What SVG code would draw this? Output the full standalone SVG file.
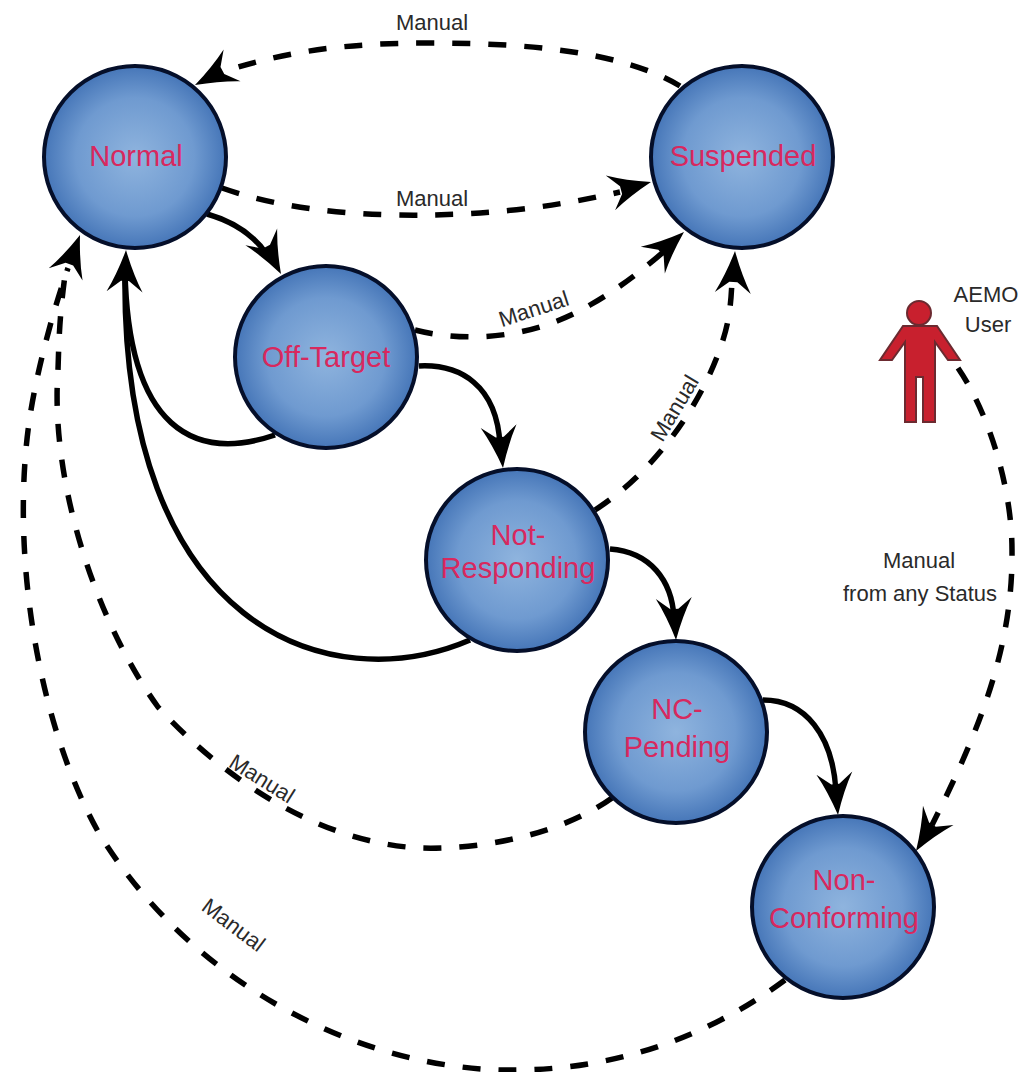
<svg xmlns="http://www.w3.org/2000/svg" width="1026" height="1072" viewBox="0 0 1026 1072">
<style>
.c{fill:url(#g);stroke:#050f2a;stroke-width:4}
.n{font-family:"Liberation Sans",Arial,sans-serif;font-size:29px;fill:#d8285e;text-anchor:middle}
.l{font-family:"Liberation Sans",Arial,sans-serif;font-size:22px;fill:#2a2a2a;text-anchor:middle}
.s{fill:none;stroke:#000;stroke-width:5.5}
.d{fill:none;stroke:#000;stroke-width:5.5;stroke-dasharray:18 18}
.a{fill:#000}
.p{fill:#c8202e;stroke:#6b2a30;stroke-width:2}
</style>
<defs>
<radialGradient id="g" cx="50%" cy="50%" r="50%">
<stop offset="0" stop-color="#8fb4de"/><stop offset="0.65" stop-color="#6f9ad0"/><stop offset="1" stop-color="#4676b8"/>
</radialGradient>
<path id="h" d="M0 0Q-24 -8 -42 -18L-31 -4V4L-42 18Q-24 8 0 0Z"/>
</defs>
<rect width="1026" height="1072" fill="#fff"/>
<g id="connectors">
<path class="d" d="M680 86C620 50 520 43 430 43C350 43 290 50 222 72"/>
<path class="d" d="M222 188C290 212 370 216 430 215C490 214 550 208 620 192"/>
<path class="s" d="M207 214C235 222 255 236 268 256"/>
<path class="d" d="M415 330C475 345 540 335 590 305C620 288 645 268 668 248"/>
<path class="s" d="M419 366C460 364 497 385 500 445"/>
<path class="s" d="M275 435C195 462 128 430 125 270"/>
<path class="s" d="M470 640C330 700 120 630 125 270"/>
<path class="d" d="M595 510C650 475 700 410 722 343C729 322 731 305 732 280"/>
<path class="s" d="M610 549C650 552 672 580 674 618"/>
<path class="s" d="M763 700C805 700 833 735 836 792"/>
<path class="d" d="M612 798C560 835 480 850 420 848C320 843 225 780 158 707C95 620 50 480 58 370C59 335 60 310 66 268"/>
<path class="d" d="M785 980C690 1050 590 1072 500 1070C350 1065 190 980 100 835C40 730 10 560 29 423C35 380 50 320 68 268"/>
<path class="d" d="M958 368C990 415 1012 490 1012 550C1013 640 985 720 932 825"/>
<use href="#h" class="a" transform="translate(195 85) rotate(152)"/>
<use href="#h" class="a" transform="translate(651 182) rotate(-15)"/>
<use href="#h" class="a" transform="translate(281 274) rotate(62)"/>
<use href="#h" class="a" transform="translate(684 232) rotate(-42)"/>
<use href="#h" class="a" transform="translate(503 468) rotate(84)"/>
<use href="#h" class="a" transform="translate(126 250) rotate(-88)"/>
<use href="#h" class="a" transform="translate(735 251) rotate(-87)"/>
<use href="#h" class="a" transform="translate(676 640) rotate(87)"/>
<use href="#h" class="a" transform="translate(838 815) rotate(85)"/>
<use href="#h" class="a" transform="translate(80 235) rotate(-70)"/>
<use href="#h" class="a" transform="translate(916 851) rotate(122)"/>
</g>
<g id="normal"><circle class="c" cx="135" cy="157" r="91"/><text class="n" x="136" y="166">Normal</text></g>
<g id="suspended"><circle class="c" cx="742" cy="157" r="91"/><text class="n" x="743" y="166">Suspended</text></g>
<g id="off-target"><circle class="c" cx="326" cy="357" r="91"/><text class="n" x="326" y="367">Off-Target</text></g>
<g id="not-responding"><circle class="c" cx="517" cy="560" r="91"/><text class="n" x="518" y="545">Not-</text><text class="n" x="518" y="578">Responding</text></g>
<g id="nc-pending"><circle class="c" cx="676" cy="732" r="91"/><text class="n" x="677" y="719">NC-</text><text class="n" x="677" y="757">Pending</text></g>
<g id="non-conforming"><circle class="c" cx="843" cy="907" r="91"/><text class="n" x="844" y="890">Non-</text><text class="n" x="844" y="928">Conforming</text></g>
<g id="user">
<circle class="p" cx="919" cy="313" r="12"/>
<path class="p" d="M903 326H937L960 360H948L935 342V422H923V377H916V422H905V342L892 360H880Z"/>
<text class="l" x="986" y="302">AEMO</text><text class="l" x="988" y="332">User</text>
</g>
<g id="labels">
<text class="l" x="432" y="30">Manual</text>
<text class="l" x="432" y="206">Manual</text>
<text class="l" transform="translate(536 316) rotate(-18)">Manual</text>
<text class="l" transform="translate(681 412) rotate(-59)">Manual</text>
<text class="l" transform="translate(258 785) rotate(32)">Manual</text>
<text class="l" transform="translate(229 931) rotate(37)">Manual</text>
<text class="l" x="919" y="568">Manual</text>
<text class="l" x="920" y="601">from any Status</text>
</g>
</svg>
